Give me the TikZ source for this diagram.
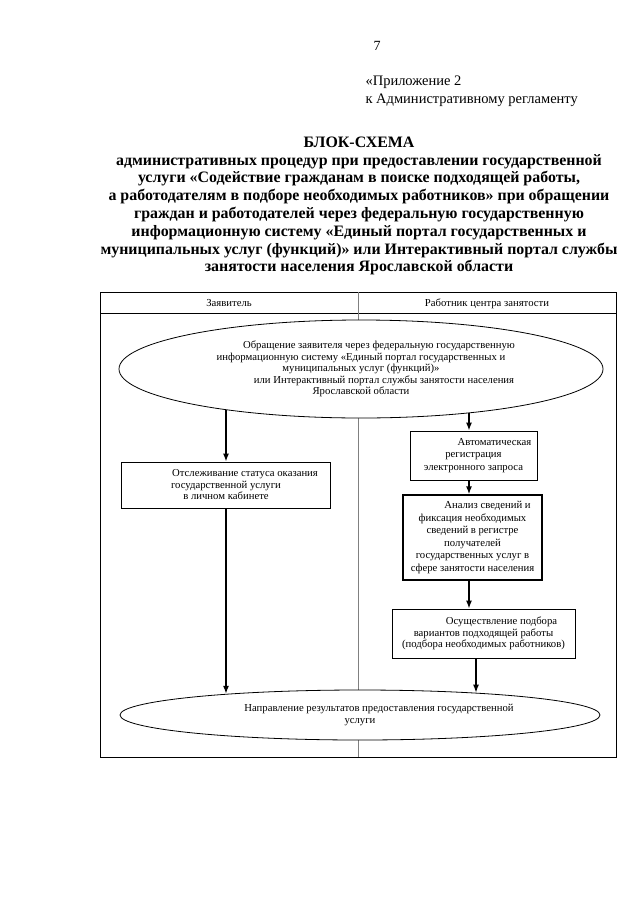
\documentclass[tikz,border=0pt]{standalone}
\usepackage{fontspec}
\setmainfont{Liberation Serif}
\usetikzlibrary{shapes.geometric,arrows.meta}
\begin{document}
\begin{tikzpicture}[x=1pt,y=-1pt,
    small/.style={font=\fontsize{10.7}{11.5}\selectfont},
    box/.style={draw, line width=0.8pt, rectangle, align=center, inner sep=1pt, small},
    oval/.style={draw, line width=0.8pt, fill=white, ellipse, inner sep=0pt, align=center, small},
    arr/.style={-{Latex[length=8pt,width=6pt]}, line width=1.4pt}]
  \useasboundingbox[fill=white] (0,0) rectangle (640,905);
  \node[font=\fontsize{14}{16}\selectfont] (page) at (377,46) {7};
  \node[anchor=west, font=\fontsize{14.5}{18}\selectfont, align=left] (appx) at (362,91) {«Приложение 2\\к Административному регламенту};
  \node[align=center, font=\bfseries\fontsize{15.9}{17.8}\selectfont] (title) at (359,206)
    {БЛОК-СХЕМА\\
     административных процедур при предоставлении государственной\\
     услуги «Содействие гражданам в поиске подходящей работы,\\
     а работодателям в подборе необходимых работников» при обращении\\
     граждан и работодателей через федеральную государственную\\
     информационную систему «Единый портал государственных и\\
     муниципальных услуг (функций)» или Интерактивный портал службы\\
     занятости населения Ярославской области};

  \draw[line width=0.9pt] (100,292) rectangle (616,757);
  \draw[line width=0.9pt] (100,313) -- (616,313);
  \draw[gray, line width=0.8pt] (358,292) -- (358,757);
  \node[small, anchor=base] (appl) at (229,306) {Заявитель};
  \node[small, anchor=base] (staff) at (487,306) {Работник центра занятости};

  \node[oval, minimum width=484pt, minimum height=98pt] (req) at (361,369)
    {\hspace*{36pt}Обращение заявителя через федеральную государственную\\
     информационную систему «Единый портал государственных и\\
     муниципальных услуг (функций)»\\
     \hspace*{46pt}или Интерактивный портал службы занятости населения\\
     Ярославской области};
  \node[box, minimum width=209pt, minimum height=46pt] (track) at (226,485)
    {\hspace*{38pt}Отслеживание  статуса оказания\\
     государственной услуги\\
     в личном кабинете};
  \node[box, minimum width=127pt, minimum height=49pt, font=\fontsize{10.7}{12.5}\selectfont] (reg) at (473.5,455.5)
    {\hspace*{42pt}Автоматическая\\
     регистрация\\
     электронного запроса};
  \node[box, line width=1.3pt, minimum width=139pt, minimum height=85pt, font=\fontsize{10.7}{12.6}\selectfont] (anal) at (472.5,537.5)
    {\hspace*{30pt}Анализ сведений  и\\
     фиксация необходимых\\
     сведений  в регистре\\
     получателей\\
     государственных услуг в\\
     сфере занятости  населения};
  \node[box, minimum width=183pt, minimum height=49pt] (sel) at (483.5,633.5)
    {\hspace*{36pt}Осуществление  подбора\\
     вариантов подходящей  работы\\
     (подбора необходимых  работников)};
  \node[oval, minimum width=480pt, minimum height=50pt] (res) at (360,715)
    {\hspace*{38pt}Направление результатов предоставления государственной\\
     услуги};

  \coordinate (regin) at ([xshift=-4.5pt]reg.north);
  \coordinate (regout) at ([xshift=-4.5pt]reg.south);
  \coordinate (analout) at ([xshift=-3.5pt]anal.south);
  \coordinate (selout) at ([xshift=-7.5pt]sel.south);
  \draw[arr] (req.-163 -| track.north) -- (track.north);
  \draw[arr] (track.south) -- (track.south |- res.171);
  \draw[arr] (req.-22 -| regin) -- (regin);
  \draw[arr] (regout) -- (regout |- anal.north);
  \draw[arr] (analout) -- (analout |- sel.north);
  \draw[arr] (selout) -- (selout |- res.11);
\end{tikzpicture}
\end{document}
